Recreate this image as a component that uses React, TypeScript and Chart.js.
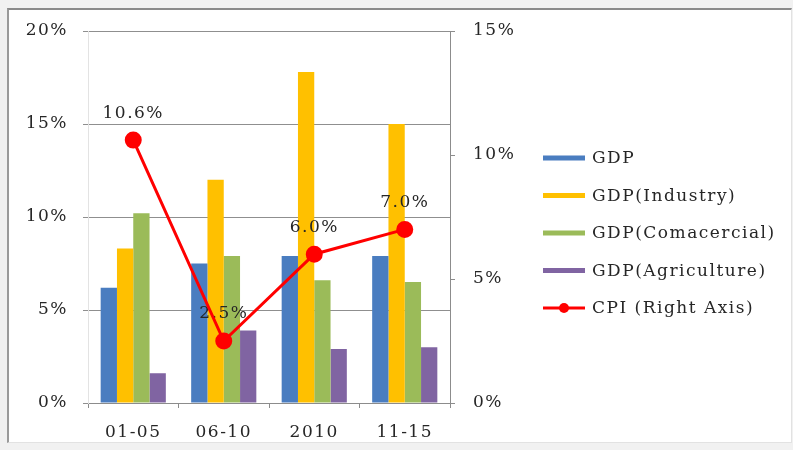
import React, { useEffect, useRef } from "react";
import { Chart, registerables } from "chart.js";

Chart.register(...registerables);

const categories = ["01-05", "06-10", "2010", "11-15"];
const gdp = [6.2, 7.5, 7.9, 7.9];
const gdpIndustry = [8.3, 12.0, 17.8, 15.0];
const gdpCommercial = [10.2, 7.9, 6.6, 6.5];
const gdpAgriculture = [1.6, 3.9, 2.9, 3.0];
const cpi = [10.6, 2.5, 6.0, 7.0];

const seriesLabels = [
  "GDP",
  "GDP(Industry)",
  "GDP(Comacercial)",
  "GDP(Agriculture)",
  "CPI (Right Axis)",
];
const leftTicks = [0, 5, 10, 15, 20];
const rightTicks = [0, 5, 10, 15];

const FONT = "'DejaVu Serif', 'Liberation Serif', serif";
const TEXT = "#262626";
const SPACING = "1.5px";

// Letter spacing for all canvas text (state is reset whenever the canvas resizes)
const spacingPlugin = {
  id: "spacing",
  beforeDraw(chart: any) {
    chart.ctx.letterSpacing = SPACING;
  },
};

// Value labels above the CPI points, drawn beneath the line itself
const cpiLabelPlugin = {
  id: "cpiLabels",
  beforeDatasetDraw(chart: any, args: any) {
    if (args.meta.type !== "line") return;
    const ctx = chart.ctx;
    ctx.save();
    ctx.letterSpacing = SPACING;
    ctx.font = `17px ${FONT}`;
    ctx.fillStyle = TEXT;
    ctx.textAlign = "center";
    ctx.textBaseline = "middle";
    const ds = chart.data.datasets[args.index];
    args.meta.data.forEach((pt: any, i: number) => {
      ctx.fillText(`${Number(ds.data[i]).toFixed(1)}%`, pt.x, pt.y - 27);
    });
    ctx.restore();
  },
};

// Legend laid out to the right of the secondary axis
const sideLegendPlugin = {
  id: "sideLegend",
  afterDraw(chart: any) {
    const ctx = chart.ctx;
    const area = chart.chartArea;
    const x0 = area.right + 93;
    const y0 = area.top + 127;
    const step = 37.5;
    ctx.save();
    ctx.letterSpacing = SPACING;
    ctx.font = `17px ${FONT}`;
    ctx.textBaseline = "middle";
    ctx.textAlign = "left";
    chart.data.datasets.forEach((ds: any, i: number) => {
      const y = y0 + i * step;
      if (ds.type === "line") {
        ctx.strokeStyle = ds.borderColor;
        ctx.lineWidth = 3;
        ctx.beginPath();
        ctx.moveTo(x0, y);
        ctx.lineTo(x0 + 42, y);
        ctx.stroke();
        ctx.fillStyle = ds.pointBackgroundColor;
        ctx.beginPath();
        ctx.arc(x0 + 21, y, 5, 0, Math.PI * 2);
        ctx.fill();
      } else {
        ctx.fillStyle = ds.backgroundColor;
        ctx.fillRect(x0, y - 2.5, 42, 5);
      }
      ctx.fillStyle = TEXT;
      ctx.fillText(ds.label, x0 + 49, y + 1);
    });
    ctx.restore();
  },
};

export default function App() {
  const canvasRef = useRef<HTMLCanvasElement | null>(null);

  useEffect(() => {
    if (!canvasRef.current) return;
    const barBase = {
      type: "bar" as const,
      yAxisID: "y",
      order: 1,
      categoryPercentage: 0.72,
      barPercentage: 1.0,
      borderWidth: 0,
    };
    const chart = new Chart(canvasRef.current, {
      data: {
        labels: categories,
        datasets: [
          { ...barBase, label: seriesLabels[0], data: gdp, backgroundColor: "#4a7dc0" },
          { ...barBase, label: seriesLabels[1], data: gdpIndustry, backgroundColor: "#ffc000" },
          { ...barBase, label: seriesLabels[2], data: gdpCommercial, backgroundColor: "#9bbb59" },
          { ...barBase, label: seriesLabels[3], data: gdpAgriculture, backgroundColor: "#8064a2" },
          {
            type: "line" as const,
            label: seriesLabels[4],
            data: cpi,
            yAxisID: "y1",
            order: 0,
            borderColor: "#ff0000",
            backgroundColor: "#ff0000",
            pointBackgroundColor: "#ff0000",
            pointBorderColor: "#ff0000",
            borderWidth: 3,
            pointRadius: 7,
            tension: 0,
          },
        ],
      } as any,
      options: {
        animation: false,
        responsive: false,
        maintainAspectRatio: false,
        layout: { padding: { left: 8, top: 31, right: 263, bottom: 7 } },
        plugins: {
          legend: { display: false },
          tooltip: { enabled: false },
        },
        scales: {
          x: {
            offset: true,
            grid: {
              offset: true,
              drawOnChartArea: false,
              drawTicks: true,
              tickLength: 5,
              color: "#8c8c8c",
            },
            border: { display: true, color: "#8c8c8c" },
            ticks: { color: TEXT, font: { family: FONT, size: 17 }, padding: 14 },
            afterFit(scale: any) {
              scale.height = 40;
            },
          },
          y: {
            position: "left",
            min: 0,
            max: 20,
            afterBuildTicks(scale: any) {
              scale.ticks = leftTicks.map((v) => ({ value: v }));
            },
            grid: { color: "#8f8f8f", tickLength: 5, drawTicks: true },
            border: { display: true, color: "#e3e3e3" },
            ticks: {
              color: TEXT,
              font: { family: FONT, size: 17 },
              padding: 15,
              callback: (v: any) => `${v}%`,
            },
            afterFit(scale: any) {
              scale.width = 80;
            },
          },
          y1: {
            position: "right",
            min: 0,
            max: 15,
            afterBuildTicks(scale: any) {
              scale.ticks = rightTicks.map((v) => ({ value: v }));
            },
            grid: { drawOnChartArea: false, tickLength: 5, color: "#8c8c8c" },
            border: { display: true, color: "#8c8c8c" },
            ticks: {
              color: TEXT,
              font: { family: FONT, size: 17 },
              padding: 18,
              callback: (v: any) => `${v}%`,
            },
            afterFit(scale: any) {
              scale.width = 80;
            },
          },
        },
      } as any,
      plugins: [spacingPlugin, cpiLabelPlugin, sideLegendPlugin],
    });
    return () => chart.destroy();
  }, []);

  return (
    <div
      style={{
        position: "fixed",
        left: 0,
        top: 0,
        width: 793,
        height: 450,
        background: "#f1f1f1",
        overflow: "hidden",
      }}
    >
      <div
        style={{
          position: "absolute",
          left: 7,
          top: 8,
          width: 782,
          height: 432,
          background: "#ffffff",
          borderTop: "2px solid #8a8a8a",
          borderLeft: "2px solid #9a9a9a",
          borderRight: "1px solid #e2e2e2",
          borderBottom: "1px solid #e2e2e2",
        }}
      />
      <canvas
        ref={canvasRef}
        width={793}
        height={450}
        style={{ position: "absolute", left: 0, top: 0, width: 793, height: 450 }}
      />
    </div>
  );
}
